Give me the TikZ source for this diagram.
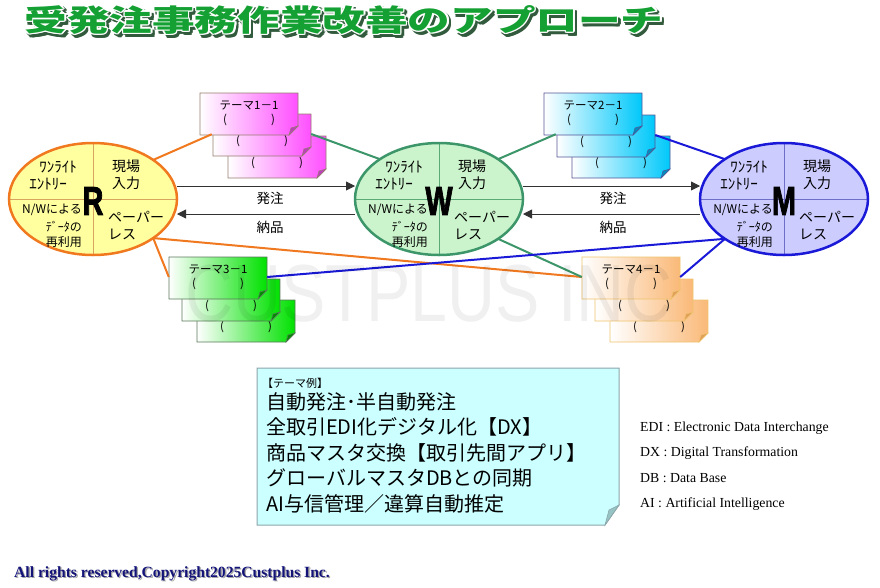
\documentclass[tikz,border=0pt]{standalone}
\usepackage{fontspec}
\setmainfont{Noto Sans CJK JP}
\newfontfamily\latinsans{Liberation Sans}
\newfontfamily\markfont{Liberation Sans}[BoldFeatures={FakeBold=2.5}]
\newfontfamily\legendfont{Liberation Serif}
\usetikzlibrary{arrows.meta,shapes.geometric}

\definecolor{Rfill}{RGB}{255,255,160}
\definecolor{Rline}{RGB}{240,120,30}
\definecolor{Rsplit}{RGB}{215,165,95}
\definecolor{Wfill}{RGB}{204,244,204}
\definecolor{Wline}{RGB}{60,150,105}
\definecolor{Wsplit}{RGB}{90,170,120}
\definecolor{Mfill}{RGB}{204,204,255}
\definecolor{Mline}{RGB}{25,25,215}
\definecolor{Msplit}{RGB}{110,110,200}
\definecolor{pinkcard}{RGB}{255,80,255}
\definecolor{pinkedge}{RGB}{150,125,110}
\definecolor{pinkfold}{RGB}{190,60,190}
\definecolor{cyancard}{RGB}{0,200,250}
\definecolor{cyanedge}{RGB}{85,85,150}
\definecolor{cyanfold}{RGB}{0,140,190}
\definecolor{greencard}{RGB}{0,225,0}
\definecolor{greenedge}{RGB}{90,120,90}
\definecolor{greenfold}{RGB}{0,140,0}
\definecolor{orangecard}{RGB}{250,185,120}
\definecolor{orangeedge}{RGB}{240,195,110}
\definecolor{orangefold}{RGB}{225,160,90}
\definecolor{boxfill}{RGB}{204,255,255}
\definecolor{boxedge}{RGB}{140,165,170}
\definecolor{boxfold}{RGB}{150,195,195}
\definecolor{flowgray}{RGB}{50,50,50}
\definecolor{titlegreen}{RGB}{20,160,50}
\definecolor{titleshadow}{RGB}{50,90,60}
\definecolor{copyblue}{RGB}{20,20,120}

\newcommand\titletext{受発注事務作業改善のアプローチ}
\newcommand\copytext{All rights reserved,Copyright2025Custplus Inc.}
% card with folded corner: name, x, y (top left), colour, first line
\newcommand\themecard[5]{%
  \path[left color=white,right color=#4card,draw=#4edge,line width=.8pt]
    (#2,#3) -- ++(98,0) -- ++(0,33) -- ++(-9,9) -- ++(-89,0) -- cycle;
  \filldraw[fill=#4fold,draw=#4edge,line width=.5pt] (#2+98,#3+33) -- ++(-9,9) -- ++(2,-7) -- cycle;
  \node[cardtxt] (#1) at (#2+49,#3+20) {\vphantom{テ}#5\\(\hspace{44pt})};}

\begin{document}
\begin{tikzpicture}[x=1pt,y=-1pt,>={Triangle[length=9pt,width=9pt]},
  hub/.style={ellipse,draw=#1line,fill=#1fill,line width=2.5pt,minimum width=168pt,
    minimum height=112pt,inner sep=0pt,outer sep=0pt,
    path picture={\draw[#1split,line width=1pt] (path picture bounding box.north) -- (path picture bounding box.south)
      (path picture bounding box.west) -- (path picture bounding box.east);}},
  hubtxt/.style={inner sep=0pt,font=\fontsize{12}{14}\selectfont},
  hubmark/.style={inner sep=0pt,font=\markfont\bfseries\fontsize{40}{40}\selectfont},
  flow/.style={draw=flowgray,line width=.8pt},
  flowtxt/.style={inner sep=0pt,font=\fontsize{13.5}{16}\selectfont},
  link/.style={line width=2pt},
  cardtxt/.style={inner sep=0pt,minimum width=98pt,minimum height=42pt,align=center,
    font=\fontsize{11.5}{14}\selectfont},
  titletxt/.style={inner sep=0pt,font=\bfseries\fontsize{30}{30}\selectfont}]

\useasboundingbox (0,0) rectangle (880,587);

% title
\foreach \sx/\sy/\c in {2.5/2.5/titleshadow,0/0/white}{
  \foreach \dx/\dy [count=\i] in {1.5/0,-1.5/0,0/1.5,0/-1.5,1.1/1.1,-1.1/1.1,1.1/-1.1,-1.1/-1.1}
    \node[titletxt,text=\c] (title-\c-\i) at (344+\sx+\dx,20+\sy+\dy) {\scalebox{1.42}[1]{\titletext}};
}
\node[titletxt,text=titlegreen] (title) at (344,20) {\scalebox{1.42}[1]{\titletext}};

% R, W, M
\foreach \h/\cx in {R/93,W/439,M/784}{
  \node[hub=\h] (\h) at (\cx,199) {};
  \node[hubmark] (\h-mark) at (\cx,201) {\scalebox{.72}[1]{\h}};
  \node[hubtxt,font=\fontsize{15}{17}\selectfont] (\h-a) at (\cx-35,167) {ﾜﾝﾗｲﾄ};
  \node[hubtxt,font=\fontsize{15}{17}\selectfont] (\h-b) at (\cx-45,184) {ｴﾝﾄﾘｰ};
  \node[hubtxt,font=\fontsize{14}{16}\selectfont,anchor=west] (\h-c) at (\cx+19,166) {現場};
  \node[hubtxt,font=\fontsize{14}{16}\selectfont,anchor=west] (\h-d) at (\cx+19,183) {入力};
  \node[hubtxt,anchor=east] (\h-e) at (\cx-11,210) {N/Wによる};
  \node[hubtxt,anchor=east] (\h-f) at (\cx-11,227) {ﾃﾞｰﾀの};
  \node[hubtxt,anchor=east] (\h-g) at (\cx-11,242) {再利用};
  \node[hubtxt,font=\fontsize{14}{16}\selectfont,anchor=west] (\h-h) at (\cx+15,217) {ペーパー};
  \node[hubtxt,font=\fontsize{14}{16}\selectfont,anchor=west] (\h-i) at (\cx+15,234) {レス};
}

% orders and deliveries
\draw[flow,->] ([yshift=13pt]R.east) -- ([yshift=13pt]W.west);
\draw[flow,->] ([yshift=-15pt]W.west) -- ([yshift=-15pt]R.east);
\draw[flow,->] ([yshift=13pt]W.east) -- ([yshift=13pt]M.west);
\draw[flow,->] ([yshift=-15pt]M.west) -- ([yshift=-15pt]W.east);
\node[flowtxt] (order1) at (270,198) {発注};
\node[flowtxt] (deliv1) at (270,227) {納品};
\node[flowtxt] (order2) at (613,198) {発注};
\node[flowtxt] (deliv2) at (613,227) {納品};

% theme cards
\themecard{t1c}{228}{136}{pink}{}
\themecard{t1b}{213}{114}{pink}{}
\themecard{t1a}{200}{93}{pink}{テーマ1－1}
\themecard{t2c}{572}{136}{cyan}{}
\themecard{t2b}{557}{115}{cyan}{}
\themecard{t2a}{544}{93}{cyan}{テーマ2－1}
\themecard{t3c}{197}{300}{green}{}
\themecard{t3b}{182}{279}{green}{}
\themecard{t3a}{169}{257}{green}{テーマ3－1}
\themecard{t4c}{610}{300}{orange}{}
\themecard{t4b}{595}{279}{orange}{}
\themecard{t4a}{582}{257}{orange}{テーマ4－1}

\draw[link,Rline] (R.33) -- ([xshift=12pt]t1a.south west);
\draw[link,Rline] (R.-33) -- (t3a.west);
\draw[link,Rline] (R.-33) -- (t4a.west);
\draw[link,Wline] (W.146) -- (t1b.east);
\draw[link,Wline] (W.34) -- ([xshift=12pt]t2a.south west);
\draw[link,Wline] (W.-34) -- (t4a.west);
\draw[link,Mline] (M.146) -- (t2b.east);
\draw[link,Mline] (M.-146) -- (t3a.east);
\draw[link,Mline] (M.-146) -- (t4a.east);

% watermark over everything
\node[inner sep=0pt,font=\latinsans\fontsize{81}{81}\selectfont,text=black,text opacity=.06] (watermark) at (429,294)
  {\scalebox{.82}[1]{CUSTPLUS INC}};

% theme examples
\path[fill=boxfill,draw=boxedge,line width=1pt] (257,368) -- (619,368) -- (619,505) -- (605,525) -- (257,525) -- cycle;
\filldraw[fill=boxfold,draw=boxedge,line width=.6pt] (619,505) -- (605,525) -- (609,510) -- cycle;
\node[anchor=west,inner sep=0pt,font=\fontsize{11}{13}\selectfont] (exhead) at (262,383) {【テーマ例】};
\node[anchor=north west,align=left,inner sep=0pt,font=\fontsize{20}{25.5}\selectfont] (exlist) at (266,392)
  {自動発注･半自動発注\\全取引EDI化デジタル化【DX】\\商品マスタ交換【取引先間アプリ】\\グローバルマスタDBとの同期\\AI与信管理／違算自動推定};

% abbreviations
\foreach \t [count=\i] in {EDI : Electronic Data Interchange,DX : Digital Transformation,DB : Data Base,AI : Artificial Intelligence}
  \node[anchor=base west,inner sep=0pt,font=\legendfont\fontsize{13.8}{16}\selectfont] (legend\i) at (640,{431.5+25.3*(\i-1)}) {\t};

\node[anchor=base west,inner sep=0pt,font=\legendfont\bfseries\fontsize{15.6}{18}\selectfont,text=black!35] (copyshade) at (15.3,578.3) {\copytext};
\node[anchor=base west,inner sep=0pt,font=\legendfont\bfseries\fontsize{15.6}{18}\selectfont,text=copyblue] (copyright) at (14,577) {\copytext};
\end{tikzpicture}
\end{document}
